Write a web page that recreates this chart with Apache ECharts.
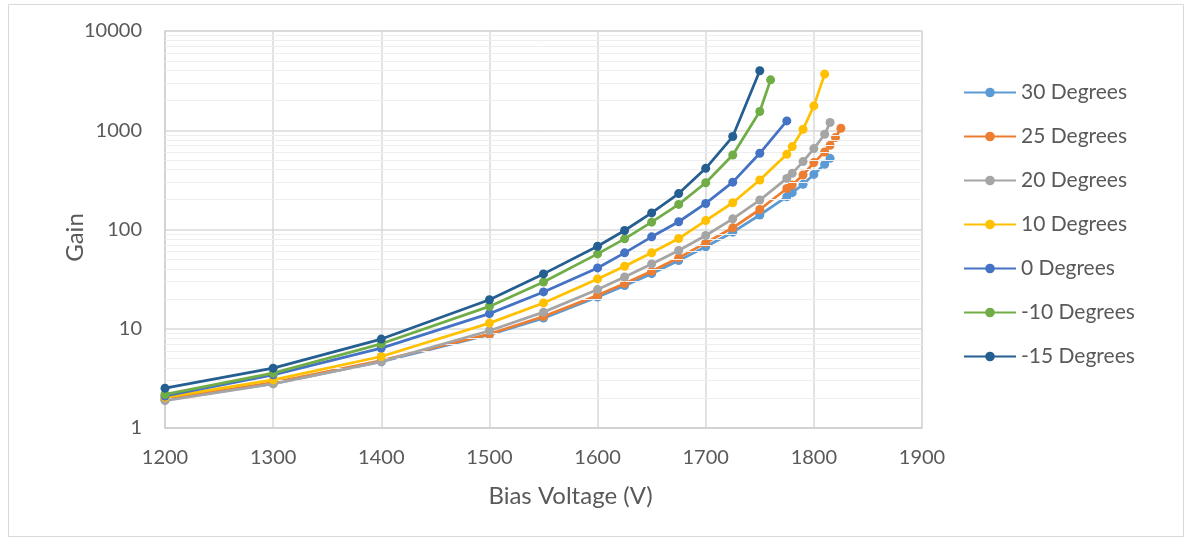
<!DOCTYPE html>
<html>
<head>
<meta charset="utf-8">
<title>Gain vs Bias Voltage</title>
<script src="https://cdn.jsdelivr.net/npm/echarts@6/dist/echarts.min.js"></script>
<style>
  html, body { margin: 0; padding: 0; background: #ffffff; }
  #chart { width: 1192px; height: 540px; }
</style>
</head>
<body>
<div id="chart"></div>
<script>
// Bias voltage (V) at which each temperature was measured
const voltsCommon = [1200, 1300, 1400, 1500, 1550, 1600, 1625, 1650, 1675, 1700, 1725, 1750];
const volts30 = voltsCommon.concat([1775, 1780, 1790, 1800, 1810, 1815]);
const volts25 = voltsCommon.concat([1775, 1780, 1790, 1800, 1810, 1815, 1820, 1825]);
const volts20 = voltsCommon.concat([1775, 1780, 1790, 1800, 1810, 1815]);
const volts10 = voltsCommon.concat([1775, 1780, 1790, 1800, 1810]);
const volts0 = voltsCommon.concat([1775]);
const voltsM10 = voltsCommon.concat([1760]);
const voltsM15 = voltsCommon.slice();

// Measured gain for each temperature
const gain30 = [1.92, 2.8, 4.65, 8.7, 12.8, 20.9, 27.2, 35.9, 48.6, 66.9, 94, 140, 214, 235, 285, 359, 454, 521];
const gain25 = [1.96, 2.87, 4.79, 8.84, 13.3, 21.7, 28.5, 37.9, 51.8, 73.3, 104, 159, 259, 280, 354, 472, 604, 705, 844, 1047];
const gain20 = [1.89, 2.78, 4.67, 9.55, 14.7, 24.8, 33.3, 45, 61.4, 87, 128, 198, 327, 368, 483, 653, 911, 1196];
const gain10 = [2.04, 3.05, 5.25, 11.4, 18.2, 31.8, 42.6, 58.2, 81.1, 123, 186, 315, 572, 684, 1023, 1760, 3680];
const gain0 = [2.1, 3.43, 6.38, 14.2, 23.5, 41, 58.2, 84.4, 119.7, 183, 300, 586, 1242];
const gainM10 = [2.18, 3.57, 7.05, 16.8, 29.6, 56.8, 80.5, 118.5, 179, 296, 563, 1545, 3220];
const gainM15 = [2.52, 4.01, 7.87, 19.6, 35.7, 67.8, 97.7, 147, 230, 413, 864, 3972];

const seriesNames = ['30 Degrees', '25 Degrees', '20 Degrees', '10 Degrees', '0 Degrees', '-10 Degrees', '-15 Degrees'];
const seriesVolts = [volts30, volts25, volts20, volts10, volts0, voltsM10, voltsM15];
const seriesGain = [gain30, gain25, gain20, gain10, gain0, gainM10, gainM15];
const seriesColors = ['#5B9BD5', '#ED7D31', '#A5A5A5', '#FFC000', '#4472C4', '#70AD47', '#255E91'];

// Axis ranges
const xMin = 1200, xMax = 1900, xStep = 100;
const yMin = 1, yMax = 10000;

// Minor log gridlines at 2..9 of each decade
const minorGrid = [];
for (let d = yMin; d < yMax; d *= 10) {
  for (let k = 2; k <= 9; k++) minorGrid.push(k * d);
}

const textColor = '#595959';
const fontFamily = 'Lato, "Open Sans", sans-serif';

const series = seriesNames.map((name, i) => ({
  name: name,
  type: 'line',
  data: seriesVolts[i].map((v, j) => [v, seriesGain[i][j]]),
  symbol: 'circle',
  symbolSize: 9,
  smooth: false,
  lineStyle: { width: 2.75, color: seriesColors[i] },
  itemStyle: { color: seriesColors[i] },
  z: 3 + i,
  emphasis: { disabled: true }
}));

// Light minor gridlines beneath the data
series.unshift({
  name: '__minor',
  type: 'line',
  data: [],
  silent: true,
  z: 1,
  markLine: {
    silent: true,
    symbol: 'none',
    label: { show: false },
    lineStyle: { color: '#eeeeee', width: 1, type: 'solid' },
    data: minorGrid.map(v => ({ yAxis: v })),
    animation: false
  }
});

const chart = echarts.init(document.getElementById('chart'), null, { renderer: 'canvas' });
chart.setOption({
  animation: false,
  backgroundColor: '#ffffff',
  color: seriesColors,
  textStyle: { fontFamily: fontFamily },
  graphic: [{
    type: 'rect',
    shape: { x: 8.5, y: 4.5, width: 1175, height: 532 },
    style: { fill: 'none', stroke: '#d9d9d9', lineWidth: 1 },
    silent: true,
    z: -1
  }],
  grid: {
    left: 165, top: 31, right: 270, bottom: 112,
    show: true, borderColor: '#d9d9d9', borderWidth: 1.5, backgroundColor: 'transparent'
  },
  legend: {
    data: seriesNames,
    orient: 'vertical',
    left: 958,
    top: 77,
    itemWidth: 52,
    itemHeight: 12,
    itemGap: 23,
    textStyle: { color: textColor, fontSize: 21, lineHeight: 20, fontFamily: fontFamily }
  },
  xAxis: {
    type: 'value',
    min: xMin, max: xMax, interval: xStep,
    name: 'Bias Voltage (V)',
    nameLocation: 'middle',
    nameGap: 56,
    nameMoveOverlap: false,
    nameTextStyle: { color: textColor, fontSize: 24, fontFamily: fontFamily, padding: [0, 0, 0, 54] },
    axisLine: { show: true, lineStyle: { color: '#d0d0d0', width: 1.5 } },
    axisTick: { show: false },
    axisLabel: { color: textColor, fontSize: 20, margin: 20, fontFamily: fontFamily, formatter: v => String(v) },
    splitLine: { show: true, lineStyle: { color: '#d9d9d9', width: 1.5 } }
  },
  yAxis: {
    type: 'log',
    logBase: 10,
    min: yMin, max: yMax,
    name: 'Gain',
    nameLocation: 'middle',
    nameGap: 78,
    nameMoveOverlap: false,
    nameTextStyle: { color: textColor, fontSize: 24, fontFamily: fontFamily, padding: [0, 16, 0, 0] },
    axisLine: { show: true, lineStyle: { color: '#d0d0d0', width: 1.5 } },
    axisTick: { show: false },
    axisLabel: { color: textColor, fontSize: 20, margin: 23, fontFamily: fontFamily, formatter: v => String(Math.round(v)) },
    splitLine: { show: true, lineStyle: { color: '#d9d9d9', width: 1.5 } }
  },
  series: series
});
</script>
</body>
</html>
